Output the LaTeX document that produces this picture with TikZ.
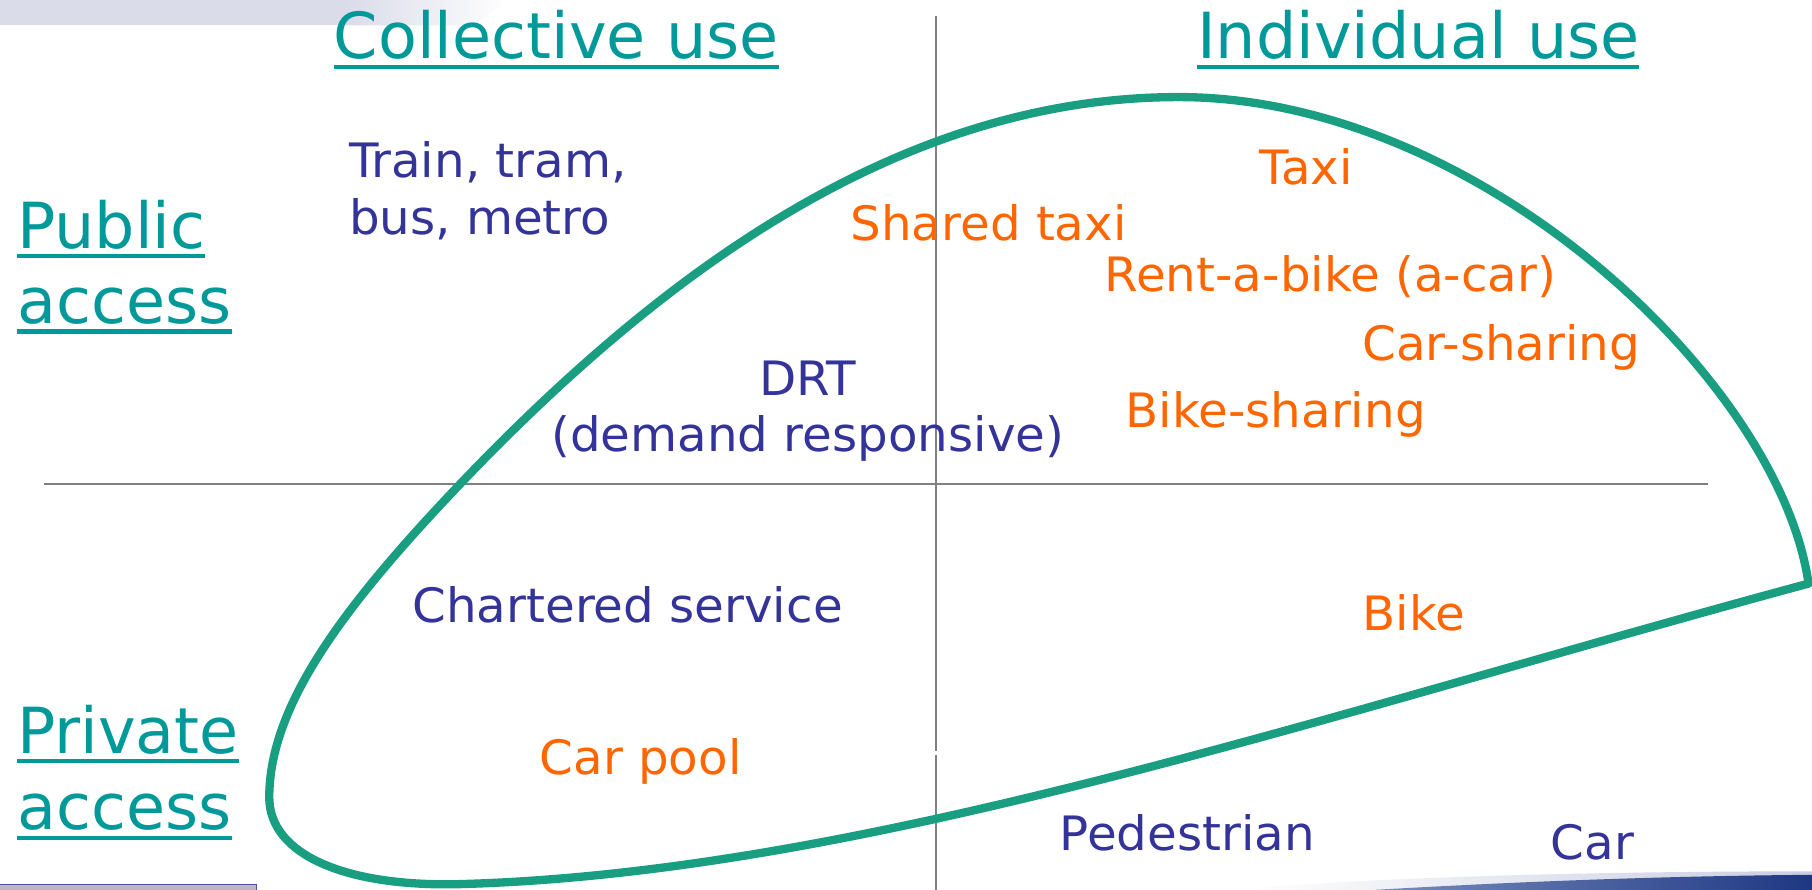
\documentclass[tikz,border=0pt]{standalone}
\usepackage{fontspec}
\setmainfont{DejaVu Sans}
\newfontfamily\bodyfont{DejaVu Sans}[FakeStretch=1.02]
\definecolor{headcol}{RGB}{0,153,153}
\definecolor{bluecol}{RGB}{51,51,153}
\definecolor{orcol}{RGB}{255,102,0}
\definecolor{loopcol}{RGB}{25,158,130}
\definecolor{axiscol}{RGB}{128,128,128}
\definecolor{bandcol}{RGB}{218,220,234}
\definecolor{navycol}{RGB}{30,55,130}
\definecolor{stripcol}{RGB}{190,180,195}
\definecolor{stripedge}{RGB}{70,85,170}
\definecolor{swooshlight}{RGB}{200,205,225}
\definecolor{swooshmid}{RGB}{120,140,190}
\begin{document}
\begin{tikzpicture}[x=0.5pt,y=-0.5pt,
  every node/.style={inner sep=0pt,outer sep=0pt},
  head/.style={anchor=base west,text=headcol,font=\fontsize{27.5}{33}\selectfont},
  blue/.style={anchor=base west,text=bluecol,font=\bodyfont\fontsize{20.5}{24.6}\selectfont},
  orange/.style={anchor=base west,text=orcol,font=\bodyfont\fontsize{20.5}{24.6}\selectfont},
  uline/.style={draw=headcol,line width=1.8pt},
  axis/.style={draw=axiscol,line width=1.1pt},
  loop/.style={draw=loopcol,line width=3.6pt,line join=round,line cap=round}]
\useasboundingbox (0,0) rectangle (1568,770);
\fill[white] (0,0) rectangle (1568,770);
% decorations of the slide
\fill[bandcol] (0,0) rectangle (300,22);
\shade[left color=bandcol,right color=white] (300,0) -- (440,0) -- (410,22) -- (300,22) -- cycle;
\fill[stripcol] (0,765) rectangle (222,770);
\draw[draw=stripedge,line width=0.6pt] (0,765.3) -- (222,765.3) -- (222,770);
\shade[left color=white,right color=swooshlight] (1070,770) .. controls (1200,758) and (1400,754) .. (1568,754) -- (1568,770) -- cycle;
\shade[left color=swooshmid,right color=navycol] (1190,770) .. controls (1330,762) and (1450,758) .. (1568,757) -- (1568,770) -- cycle;
% axes
\draw[axis] (38,419) -- (1478,419);
\draw[axis] (810,14) -- (810,650);
\draw[axis] (810,653) -- (810,770);
% headings
\node[head] (coll) at (289,51) {Collective use};
\node[head] (indiv) at (1036,51) {Individual use};
\node[head] (pub) at (15,215) {Public};
\node[head] (acc1) at (15,280) {access};
\node[head] (priv) at (15,652) {Private};
\node[head] (acc2) at (15,718) {access};
\foreach \n in {coll,indiv,pub,acc1,priv,acc2}
  \draw[uline] ([yshift=-3.4pt]\n.base west) -- ([yshift=-3.4pt]\n.base east);
% loop
\draw[loop] (1565,505) .. controls (1540,330) and (1280,84) .. (1020,84)
  .. controls (774,84) and (567,242) .. (398,419)
  .. controls (298,524) and (233,610) .. (233,690)
  .. controls (233,740) and (300,768) .. (400,765)
  .. controls (750,755) and (1150,617) .. cycle;
% labels
\node[blue] (train) at (302,154) {Train, tram,};
\node[blue] (bus) at (302,203) {bus, metro};
\node[orange] (shared) at (736,208) {Shared taxi};
\node[orange] (taxi) at (1090,160) {Taxi};
\node[orange] (rent) at (956,252) {Rent-a-bike (a-car)};
\node[orange] (carsh) at (1179,312) {Car-sharing};
\node[orange] (bikesh) at (974,370) {Bike-sharing};
\node[blue,anchor=base] (drt) at (699,342) {DRT};
\node[blue,anchor=base] (drtsub) at (699,391) {(demand responsive)};
\node[blue] (chart) at (357,539) {Chartered service};
\node[orange] (bike) at (1179,546) {Bike};
\node[orange] (pool) at (467,670) {Car pool};
\node[blue] (ped) at (917,736) {Pedestrian};
\node[blue] (car) at (1342,744) {Car};
\end{tikzpicture}
\end{document}
